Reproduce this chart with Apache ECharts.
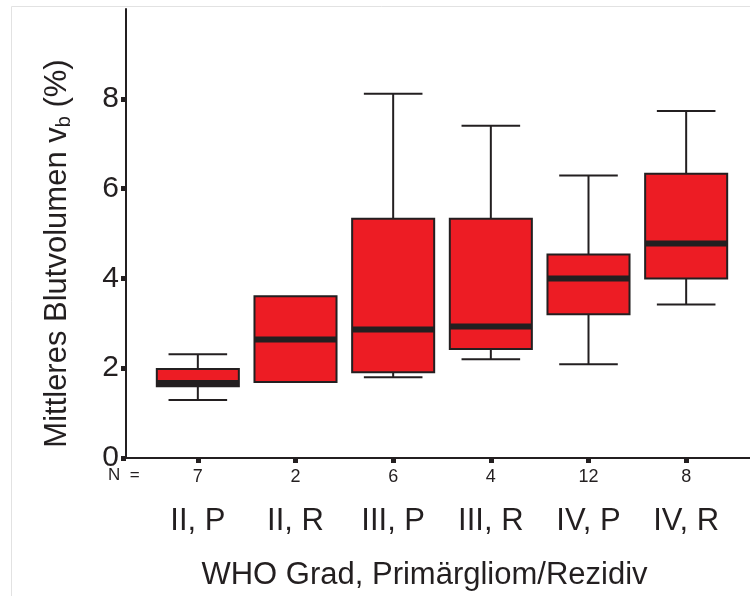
<!DOCTYPE html>
<html>
<head>
<meta charset="utf-8">
<script src="https://cdn.jsdelivr.net/npm/echarts@6/dist/echarts.min.js"></script>
<style>
  html, body { margin: 0; padding: 0; background: #fff; }
  #main { width: 750px; height: 596px; }
</style>
</head>
<body>
<div id="main"></div>
<script>
var categories = ['II, P', 'II, R', 'III, P', 'III, R', 'IV, P', 'IV, R'];
var counts = [7, 2, 6, 4, 12, 8];
var lows = [1.29, 1.69, 1.80, 2.20, 2.09, 3.42];
var q1s = [1.60, 1.69, 1.91, 2.43, 3.20, 4.00];
var medians = [1.67, 2.64, 2.86, 2.93, 4.00, 4.78];
var q3s = [1.98, 3.60, 5.33, 5.33, 4.53, 6.33];
var highs = [2.31, 3.60, 8.11, 7.40, 6.29, 7.73];
var yTicks = [0, 2, 4, 6, 8];

var dark = '#231f20';
var red = '#ed1c24';
var font = 'Liberation Sans, Arial, sans-serif';

var myChart = echarts.init(document.getElementById('main'));

var boxData = categories.map(function (c, i) {
  return [i, lows[i], q1s[i], medians[i], q3s[i], highs[i]];
});

// Kasten mit Whiskern, Kappen und dickem Median
function renderBox(params, api) {
  var i = api.value(0);
  var lo = api.coord([i, api.value(1)]);
  var q1 = api.coord([i, api.value(2)]);
  var md = api.coord([i, api.value(3)]);
  var q3 = api.coord([i, api.value(4)]);
  var hi = api.coord([i, api.value(5)]);
  var band = api.size([1, 0])[0];
  var bw = band * 0.84, cw = band * 0.6;
  var cx = lo[0];
  var line = { stroke: dark, lineWidth: 2 };
  var kids = [];
  if (hi[1] < q3[1] - 0.5) {
    kids.push({ type: 'line', shape: { x1: cx, y1: hi[1], x2: cx, y2: q3[1] }, style: line });
    kids.push({ type: 'line', shape: { x1: cx - cw / 2, y1: hi[1], x2: cx + cw / 2, y2: hi[1] }, style: line });
  }
  if (lo[1] > q1[1] + 0.5) {
    kids.push({ type: 'line', shape: { x1: cx, y1: q1[1], x2: cx, y2: lo[1] }, style: line });
    kids.push({ type: 'line', shape: { x1: cx - cw / 2, y1: lo[1], x2: cx + cw / 2, y2: lo[1] }, style: line });
  }
  kids.push({
    type: 'rect',
    shape: { x: cx - bw / 2, y: q3[1], width: bw, height: q1[1] - q3[1] },
    style: { fill: red, stroke: dark, lineWidth: 2 }
  });
  kids.push({
    type: 'line',
    shape: { x1: cx - bw / 2, y1: md[1], x2: cx + bw / 2, y2: md[1] },
    style: { stroke: dark, lineWidth: 6 }
  });
  return { type: 'group', children: kids };
}

var option = {
  backgroundColor: '#fff',
  animation: false,
  textStyle: { fontFamily: font, color: dark },
  graphic: [
    { type: 'rect', left: 9, top: 4, shape: { width: 760, height: 620 },
      style: { fill: 'none', stroke: '#e2e2e2', lineWidth: 1 }, silent: true },
    { type: 'text', left: 108, top: 467,
      style: { text: 'N  =', fontSize: 17, fontFamily: font, fill: dark } }
  ],
  grid: [
    { left: 149, width: 586, top: 9, bottom: 138 },
    { left: 126, right: 0, top: 9, bottom: 138 }
  ],
  xAxis: [
    {
      type: 'category',
      gridIndex: 0,
      data: categories,
      axisLine: { show: false },
      axisTick: { show: true, alignWithLabel: true, length: 5, lineStyle: { color: dark, width: 5 } },
      axisLabel: {
        margin: 8,
        color: dark,
        formatter: function (v, i) { return '{n|' + counts[i] + '}\n{c|' + v + '}'; },
        rich: {
          n: { fontSize: 18, lineHeight: 22, fontFamily: font, color: dark },
          c: { fontSize: 31, lineHeight: 66, fontFamily: font, color: dark }
        }
      },
      name: 'WHO Grad, Primärgliom/Rezidiv',
      nameLocation: 'middle',
      nameGap: 101,
      nameTextStyle: { fontSize: 31, lineHeight: 32, color: dark, fontFamily: font, padding: [0, 35, 0, 0] }
    },
    {
      type: 'value',
      gridIndex: 1,
      min: 0, max: 1,
      axisLine: { show: true, lineStyle: { color: dark, width: 2 } },
      axisTick: { show: false },
      axisLabel: { show: false },
      splitLine: { show: false }
    }
  ],
  yAxis: [
    {
      type: 'value',
      gridIndex: 0,
      min: 0, max: 10,
      show: false
    },
    {
      type: 'value',
      gridIndex: 1,
      min: 0, max: 10,
      axisLine: { show: true, lineStyle: { color: dark, width: 2 } },
      axisTick: { show: true, customValues: yTicks, length: 5, lineStyle: { color: dark, width: 5 } },
      axisLabel: { customValues: yTicks, fontSize: 30, color: dark, margin: 7, fontFamily: font },
      splitLine: { show: false },
      name: 'Mittleres Blutvolumen v{s|b} (%)',
      nameLocation: 'middle',
      nameRotate: 90,
      nameGap: 52,
      nameTextStyle: {
        fontSize: 31, lineHeight: 34, color: dark, fontFamily: font, padding: [0, 40, 0, 0],
        rich: {
          s: { fontSize: 20, lineHeight: 14, verticalAlign: 'bottom', fontFamily: font, color: dark }
        }
      }
    }
  ],
  series: [{
    type: 'custom',
    xAxisIndex: 0,
    yAxisIndex: 0,
    renderItem: renderBox,
    encode: { x: 0, y: [1, 2, 3, 4, 5] },
    data: boxData
  }]
};

myChart.setOption(option);
</script>
</body>
</html>
